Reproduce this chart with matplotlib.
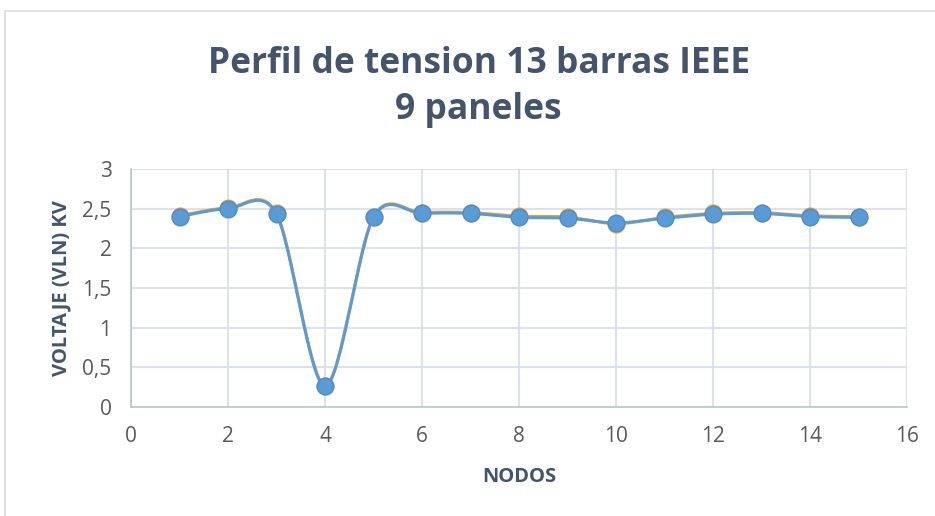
import numpy as np
import matplotlib
matplotlib.use("Agg")
import matplotlib.pyplot as plt
from matplotlib.patches import Rectangle

# nodos y voltajes (kV)
nodos = [1, 2, 3, 4, 5, 6, 7, 8, 9, 10, 11, 12, 13, 14, 15]
v_serie1 = [2.40, 2.50, 2.43, 0.26, 2.39, 2.44, 2.44, 2.39, 2.38, 2.32, 2.38, 2.43, 2.44, 2.40, 2.39]
v_serie2 = [2.41, 2.51, 2.44, 0.27, 2.40, 2.45, 2.45, 2.405, 2.395, 2.31, 2.39, 2.44, 2.45, 2.41, 2.40]

titulo = "Perfil de tension 13 barras IEEE\n9 paneles"
xlabel = "NODOS"
ylabel = "VOLTAJE (VLN) KV"


def suavizar(x, y, n=30):
    # curva tipo Excel (catmull-rom)
    x = np.asarray(x, float)
    y = np.asarray(y, float)
    px = np.concatenate([[x[0]], x, [x[-1]]])
    py = np.concatenate([[y[0]], y, [y[-1]]])
    xs, ys = [], []
    t = np.linspace(0, 1, n)
    for i in range(1, len(px) - 2):
        p0, p1, p2, p3 = [np.array([px[j], py[j]]) for j in (i - 1, i, i + 1, i + 2)]
        c1 = p1 + (p2 - p0) / 6.5
        c2 = p2 - (p3 - p1) / 6.5
        b = ((1 - t) ** 3)[:, None] * p1 + (3 * (1 - t) ** 2 * t)[:, None] * c1 \
            + (3 * (1 - t) * t ** 2)[:, None] * c2 + (t ** 3)[:, None] * p2
        xs.append(b[:, 0])
        ys.append(b[:, 1])
    return np.concatenate(xs), np.concatenate(ys)


plt.rcParams['font.family'] = ['Open Sans', 'DejaVu Sans']

fig = plt.figure(figsize=(9.35, 5.16), dpi=100)
fig.patches.append(Rectangle((5 / 935, -0.1), 1.2, 1 - 11 / 516 + 0.1, transform=fig.transFigure,
                             fill=False, edgecolor='#D9D9D9', linewidth=1.2))
ax = fig.add_axes([131 / 935, 1 - 407 / 516, 776 / 935, 238 / 516])

sx, sy = suavizar(nodos, v_serie2)
ax.plot(sx, sy, color='#F0A030', lw=2.2, zorder=3)
ax.plot(nodos, v_serie2, 'o', ms=12, color='#F0A030', zorder=3)
sx, sy = suavizar(nodos, v_serie1)
ax.plot(sx, sy, color='#5B9BD5', lw=2.2, zorder=4)
ax.plot(nodos, v_serie1, 'o', ms=12, markerfacecolor='#5B9BD5', markeredgecolor='#4C8DCB',
        markeredgewidth=1, zorder=5)

ax.set_xlim(0, 16)
ax.set_ylim(0, 3)
ax.set_xticks(range(0, 17, 2))
ax.set_yticks([0, 0.5, 1, 1.5, 2, 2.5, 3])
ax.set_yticklabels(["0", "0,5", "1", "1,5", "2", "2,5", "3"])
ax.grid(True, color='#DDE1E8', lw=1.5)
ax.set_axisbelow(True)
for s in ['top', 'right']:
    ax.spines[s].set_visible(False)
for s in ['left', 'bottom']:
    ax.spines[s].set_color('#BCC3CE')
    ax.spines[s].set_linewidth(1.2)
ax.tick_params(length=0, labelsize=15, colors='#595959', pad=14)

ax.set_xlabel(xlabel, fontsize=14.5, fontweight='bold', color='#44546A', labelpad=14)
ax.set_ylabel(ylabel, fontsize=14.5, fontweight='bold', color='#44546A', labelpad=8)
fig.text(0.512, 0.832, titulo, ha='center', va='center', fontsize=25.5, fontweight='bold',
         color='#44546A', linespacing=1.38)

fig.savefig("out.png", dpi=100)
